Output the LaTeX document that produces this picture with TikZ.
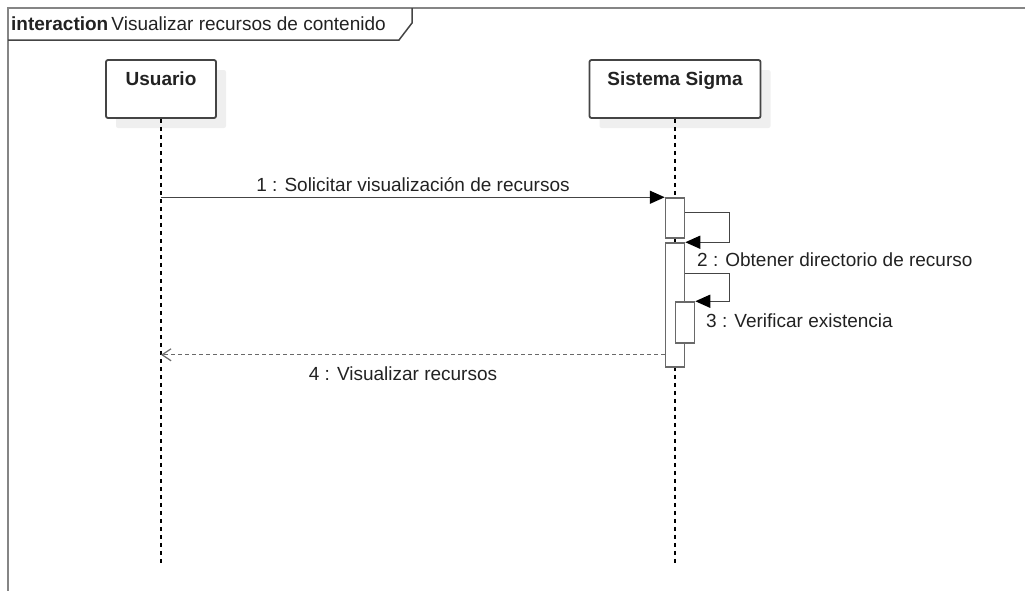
\documentclass[tikz,border=0pt]{standalone}
\usepackage{fontspec}
\setmainfont{Liberation Sans}
\usetikzlibrary{arrows.meta,calc,shadows}
\definecolor{edge}{HTML}{444444}
\definecolor{framegray}{HTML}{858585}
\definecolor{shade}{HTML}{EFEFEF}
\definecolor{ink}{HTML}{222222}
\begin{document}
\begin{tikzpicture}[x=1pt,y=-1pt,
  txt/.style={font=\fontsize{19}{22}\selectfont, text=ink, inner sep=0pt},
  actor/.style={draw=edge, line width=1.8pt, rounded corners=2pt, fill=white,
    minimum width=110pt, minimum height=58pt, inner sep=0pt,
    drop shadow={shadow xshift=10pt, shadow yshift=-10pt, fill=shade, opacity=1}},
  actlbl/.style={txt, font=\fontsize{19}{22}\selectfont\bfseries},
  lifeline/.style={draw=black, line width=1.4pt, dash pattern=on 4pt off 4pt},
  act/.style={draw=edge!80, line width=1.5pt, fill=white, minimum width=19pt, inner sep=0pt},
  msg/.style={draw=edge, line width=1.5pt,
    -{Triangle[length=15pt,width=13pt,fill=black,color=black]}},
  reply/.style={draw=edge!80, line width=1.3pt, dash pattern=on 4pt off 3pt,
    -{Straight Barb[length=9pt,width=12pt,line width=1.2pt]}},
]
\useasboundingbox (0,0) rectangle (1025,590);
\clip (0,0) rectangle (1025,590);

% interaction frame and its name tab
\draw[framegray, line width=2.4pt] (8,600) -- (8,8) -- (1030,8);
\draw[edge, line width=1.5pt] (8,40) -- (399,40) -- (412,23) -- (412,8);
\node[txt, anchor=west] (frametitle) at (11,24)
  {\textbf{interaction}\,Visualizar recursos de contenido};

% participants
\node[actor, minimum width=110pt,
  label={[actlbl, anchor=north, yshift=-12pt]north:Usuario}] (user) at (161,89) {};
\node[actor, minimum width=171pt,
  label={[actlbl, anchor=north, yshift=-12pt]north:Sistema Sigma}] (sys) at (675,89) {};

% lifelines
\coordinate (userEnd) at (user.south |- 0,566);
\coordinate (sysEnd) at (sys.south |- 0,566);
\draw[lifeline] (user.south) -- (userEnd);
\draw[lifeline] (sys.south) -- (sysEnd);

% activations
\node[act, minimum height=40pt] (a1) at (675,218) {};
\node[act, minimum height=124pt] (a2) at (675,305) {};
\node[act, minimum height=41pt] (a3) at (685,322.5) {};

% 1 : request
\draw[msg] (user.south |- a1.north west) -- (a1.north west);
\node[txt] (m1) at (413,185) {1 : Solicitar visualización de recursos};

% 2 : self call
\draw[msg] ($(a1.north east)+(0,15)$) -- ++(44,0) |- (a2.north east);
\node[txt, anchor=west] (m2) at (697,260) {2 : Obtener directorio de recurso};

% 3 : nested self call
\draw[msg] ($(a2.north east)+(0,31)$) -- ++(44,0) |- (a3.north east);
\node[txt, anchor=west] (m3) at (706,321) {3 : Verificar existencia};

% 4 : reply
\coordinate (r4) at ($(a2.south west)+(0,-13)$);
\draw[reply] (r4) -- (user.south |- r4);
\node[txt] (m4) at (403,374) {4 : Visualizar recursos};
\end{tikzpicture}
\end{document}
